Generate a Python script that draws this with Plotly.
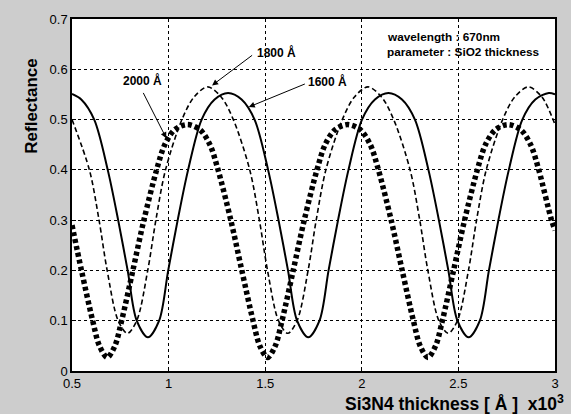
import plotly.graph_objects as go

# ---- data (x in units of 10^3 Å) ----
x_2000 = [0.5, 0.549, 0.607, 0.642, 0.682, 0.722, 0.757, 0.815, 0.872, 0.938, 0.980, 1.032, 1.097,
          1.162, 1.214, 1.256, 1.322, 1.379, 1.437, 1.472, 1.512, 1.552, 1.587, 1.645, 1.702, 1.768,
          1.810, 1.862, 1.927, 1.992, 2.044, 2.086, 2.152, 2.209, 2.267, 2.302, 2.342, 2.382, 2.417,
          2.475, 2.532, 2.598, 2.640, 2.692, 2.757, 2.822, 2.874, 2.916, 2.982, 3.0]
y_2000 = [0.29, 0.2, 0.1, 0.05, 0.027, 0.05, 0.1, 0.2, 0.3, 0.4, 0.45, 0.48, 0.49,
          0.48, 0.45, 0.4, 0.3, 0.2, 0.1, 0.05, 0.027, 0.05, 0.1, 0.2, 0.3, 0.4,
          0.45, 0.48, 0.49, 0.48, 0.45, 0.4, 0.3, 0.2, 0.1, 0.05, 0.027, 0.05, 0.1,
          0.2, 0.3, 0.4, 0.45, 0.48, 0.49, 0.48, 0.45, 0.4, 0.3, 0.28]

x_1800 = [0.5, 0.59, 0.64, 0.682, 0.739, 0.787, 0.835, 0.892, 0.934, 0.984, 1.069, 1.132, 1.202,
          1.272, 1.335, 1.420, 1.470, 1.512, 1.569, 1.617, 1.665, 1.722, 1.764, 1.814, 1.899, 1.962,
          2.032, 2.102, 2.165, 2.250, 2.300, 2.342, 2.399, 2.447, 2.495, 2.552, 2.594, 2.644, 2.729,
          2.792, 2.862, 2.932, 3.0]
y_1800 = [0.50, 0.4, 0.3, 0.2, 0.1, 0.075, 0.1, 0.2, 0.3, 0.4, 0.5, 0.545, 0.565,
          0.545, 0.5, 0.4, 0.3, 0.2, 0.1, 0.075, 0.1, 0.2, 0.3, 0.4, 0.5, 0.545,
          0.565, 0.545, 0.5, 0.4, 0.3, 0.2, 0.1, 0.075, 0.1, 0.2, 0.3, 0.4, 0.5,
          0.545, 0.565, 0.545, 0.49]

x_1600 = [0.5, 0.548, 0.615, 0.685, 0.739, 0.788, 0.835, 0.893, 0.951, 0.998, 1.047, 1.101, 1.171,
          1.238, 1.308, 1.378, 1.445, 1.515, 1.569, 1.618, 1.665, 1.723, 1.781, 1.828, 1.877, 1.931,
          2.001, 2.068, 2.138, 2.208, 2.275, 2.345, 2.399, 2.448, 2.495, 2.553, 2.611, 2.658, 2.707,
          2.761, 2.831, 2.898, 2.968, 3.0]
y_1600 = [0.551, 0.54, 0.5, 0.4, 0.3, 0.2, 0.1, 0.067, 0.1, 0.2, 0.3, 0.4, 0.5,
          0.54, 0.553, 0.54, 0.5, 0.4, 0.3, 0.2, 0.1, 0.067, 0.1, 0.2, 0.3, 0.4,
          0.5, 0.54, 0.553, 0.54, 0.5, 0.4, 0.3, 0.2, 0.1, 0.067, 0.1, 0.2, 0.3,
          0.4, 0.5, 0.54, 0.553, 0.55]

x_ticks = [0.5, 1, 1.5, 2, 2.5, 3]
x_tick_labels = ["0.5", "1", "1.5", "2", "2.5", "3"]
y_ticks = [0, 0.1, 0.2, 0.3, 0.4, 0.5, 0.6, 0.7]
y_tick_labels = ["0", "0.1", "0.2", "0.3", "0.4", "0.5", "0.6", "0.7"]

FONT = "Liberation Sans, Arial, sans-serif"

fig = go.Figure()
fig.add_trace(go.Scatter(x=x_1600, y=y_1600, mode="lines", name="1600 Å",
                         line=dict(color="black", width=2, shape="spline", smoothing=0.9)))
fig.add_trace(go.Scatter(x=x_1800, y=y_1800, mode="lines", name="1800 Å",
                         line=dict(color="black", width=1.6, dash="5px,3px", shape="spline", smoothing=0.9)))
fig.add_trace(go.Scatter(x=x_2000, y=y_2000, mode="lines", name="2000 Å",
                         line=dict(color="black", width=5.5, dash="4px,3px", shape="spline", smoothing=0.9)))

ann = []
# curve labels and arrows
labels = [("2000 Å", 0.863, 0.578, 0.865, 0.556, 0.988, 0.463),
          ("1800 Å", 1.559, 0.634, 1.44, 0.630, 1.225, 0.568),
          ("1600 Å", 1.82, 0.576, 1.713, 0.572, 1.415, 0.525)]
for txt, tx, ty, ax, ay, hx, hy in labels:
    ann.append(dict(x=tx, y=ty, xref="x", yref="y", text="<b>" + txt + "</b>", showarrow=False,
                    font=dict(family=FONT, size=12, color="black")))
    ann.append(dict(x=hx, y=hy, xref="x", yref="y", ax=ax, ay=ay, axref="x", ayref="y", text="",
                    showarrow=True, arrowhead=2, arrowsize=1.2, arrowwidth=1, arrowcolor="black"))

ann.append(dict(x=2.119, y=0.664, xref="x", yref="y", xanchor="left", yanchor="middle",
                text="<b>wavelength : 670nm</b>",
                showarrow=False, font=dict(family=FONT, size=11.8, color="black")))
ann.append(dict(x=2.119, y=0.634, xref="x", yref="y", xanchor="left", yanchor="middle",
                text="<b>parameter : SiO2 thickness</b>",
                showarrow=False, font=dict(family=FONT, size=11.8, color="black")))
# axis titles
ann.append(dict(x=-0.084, y=0.752, xref="paper", yref="paper", xanchor="center", yanchor="middle",
                text="<b>Reflectance</b>", textangle=-90,
                showarrow=False, font=dict(family=FONT, size=17, color="black")))
ann.append(dict(x=1.022, y=-0.092, xref="paper", yref="paper", xanchor="right", yanchor="middle",
                text="<b>Si3N4 thickness [ Å ]  x10<sup>3</sup></b>",
                showarrow=False, font=dict(family=FONT, size=17.5, color="black")))

fig.update_layout(
    width=571, height=414,
    margin=dict(l=72, r=13, t=17, b=43),
    paper_bgcolor="#cdcdcd", plot_bgcolor="white",
    showlegend=False,
    annotations=ann,
    font=dict(family=FONT, size=13, color="black"),
)
fig.update_xaxes(range=[0.5, 3], tickvals=x_ticks, ticktext=x_tick_labels,
                 showgrid=True, gridcolor="black", griddash="dot", gridwidth=1,
                 showline=True, linecolor="black", linewidth=1.5, mirror=True,
                 ticks="inside", ticklen=4, tickcolor="black", zeroline=False,
                 tickfont=dict(size=13))
fig.update_yaxes(range=[0, 0.7], tickvals=y_ticks, ticktext=y_tick_labels,
                 showgrid=True, gridcolor="black", griddash="dot", gridwidth=1,
                 showline=True, linecolor="black", linewidth=1.5, mirror=True,
                 ticks="inside", ticklen=4, tickcolor="black", zeroline=False,
                 tickfont=dict(size=13))

fig.write_html("out.html", config={"displayModeBar": False},
               post_script="document.body.style.margin='0';document.body.style.background='#cdcdcd';")
